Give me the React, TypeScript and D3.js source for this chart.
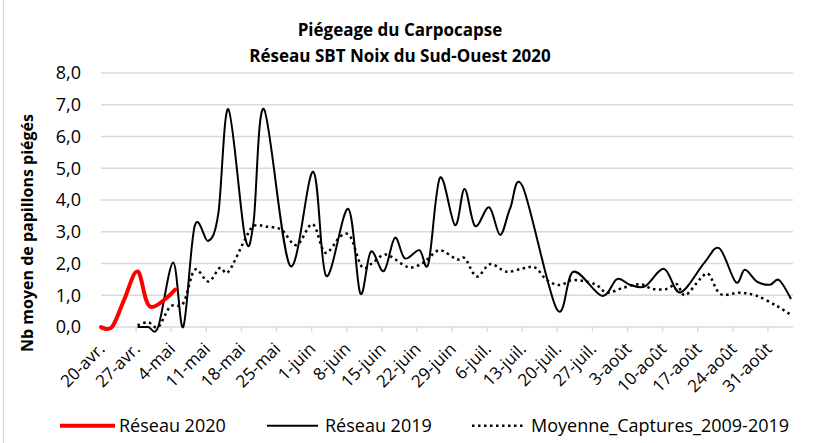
import React from 'react';
import * as d3 from 'd3';

// tick labels, one per week from 20 April
const tickLabels = [
  '20-avr.', '27-avr.', '4-mai', '11-mai', '18-mai', '25-mai', '1-juin', '8-juin', '15-juin', '22-juin',
  '29-juin', '6-juil.', '13-juil.', '20-juil.', '27-juil.', '3-août', '10-août', '17-août', '24-août', '31-août'
];
const yTicks = [0, 1, 2, 3, 4, 5, 6, 7, 8];

// days counted from 20 April
const days2020 = [0, 2.2, 4.6, 7.3, 9.8, 14.8];
const values2020 = [0, 0, 0.85, 1.75, 0.64, 1.18];

const days2019 = [
  7.3, 9.4, 11.4, 14.4, 16.4, 18.7, 21.4, 23.4, 25.4, 28.7, 30.4, 32.5, 37.7, 42.3, 44.9, 49.3, 51.7, 53.8,
  56.4, 58.6, 60.6, 63.5, 65.3, 67.6, 70.6, 72.5, 74.6, 77.4, 79.6, 81.6, 84.1, 90.9, 94.2, 99.9,
  102.9, 105.5, 108.5, 112.3, 115.5, 120.3, 123.3, 126.6, 128.4, 130.8, 133.4, 135.2, 137.6
];
const values2019 = [
  0, 0, 0, 2.03, 0, 3.19, 2.71, 3.58, 6.86, 2.85, 3.27, 6.86, 1.93, 4.89, 1.61, 3.72, 1.06, 2.37,
  1.76, 2.81, 2.16, 2.42, 2.0, 4.7, 3.21, 4.35, 3.18, 3.77, 2.9, 3.74, 4.42, 0.56, 1.74, 0.98,
  1.51, 1.33, 1.28, 1.83, 1.09, 2.02, 2.48, 1.41, 1.8, 1.43, 1.33, 1.48, 0.88
];

const daysMoy = [
  7.3, 9.4, 11.4, 13.8, 16.4, 18.7, 21.4, 23.7, 25.4, 28.7, 30.4, 33, 36, 39, 42.2, 44.7, 47.7, 49.7, 52,
  54, 56, 57.6, 61.3, 64, 65.3, 67.6, 71, 72.6, 74.9, 77.6, 80.9, 84.2, 86.6, 88.9, 91.5, 94.2, 98.5,
  100.9, 104.2, 107.5, 110, 112.8, 114.8, 116.5, 119.6, 121.2, 123.5, 127.4, 130.8, 134.8, 137.6
];
const valuesMoy = [
  0.05, 0.15, 0, 0.64, 0.75, 1.8, 1.43, 1.86, 1.74, 2.75, 3.18, 3.16, 3.06, 2.58, 3.24, 2.34, 2.85, 2.85, 1.9,
  2.0, 2.25, 2.24, 1.88, 2.0, 2.16, 2.42, 2.13, 2.16, 1.59, 1.98, 1.74, 1.85, 1.87, 1.48, 1.32, 1.48, 1.35,
  1.08, 1.24, 1.35, 1.2, 1.2, 1.35, 1.0, 1.53, 1.66, 1.04, 1.08, 0.98, 0.66, 0.38
];

const legendItems = ['Réseau 2020', 'Réseau 2019', 'Moyenne_Captures_2009-2019'];

const font = "'Open Sans', sans-serif";
const grid = '#d9d9d9';

const App: React.FC = () => {
  const width = 823;
  const height = 443;
  const margin = { top: 73, right: 30, bottom: 116, left: 101 };

  const xScale = d3.scaleLinear().domain([0, 138]).range([margin.left, width - margin.right]);
  const yScale = d3.scaleLinear().domain([0, 8]).range([height - margin.bottom, margin.top]);

  const line = d3
    .line<[number, number]>()
    .x(d => xScale(d[0]))
    .y(d => yScale(d[1]))
    .curve(d3.curveCardinal.tension(0));

  const zip = (xs: number[], ys: number[]) => xs.map((x, i) => [x, ys[i]] as [number, number]);

  const y0 = yScale(0);

  return (
    <svg width={width} height={height} style={{ position: 'absolute', left: 0, top: 0, background: '#fff' }}>
      <line x1={3.5} x2={3.5} y1={0} y2={height} stroke={grid} strokeWidth={1.3} />

      <text x={400} y={36} textAnchor="middle" fontFamily={font} fontWeight="bold" fontSize={17}>
        Piégeage du Carpocapse
      </text>
      <text x={400} y={62} textAnchor="middle" fontFamily={font} fontWeight="bold" fontSize={17}>
        Réseau SBT Noix du Sud-Ouest 2020
      </text>

      {/* gridlines + y labels */}
      {yTicks.map(t => (
        <g key={t}>
          <line x1={margin.left} x2={width - margin.right} y1={yScale(t)} y2={yScale(t)} stroke={grid} strokeWidth={1.3} />
          <text x={81} y={yScale(t)} dy="0.35em" textAnchor="end" fontFamily={font} fontSize={18} fill="#000">
            {d3.format('.1f')(t).replace('.', ',')}
          </text>
        </g>
      ))}

      <text
        transform={`translate(33, 233) rotate(-90)`}
        textAnchor="middle"
        fontFamily={font}
        fontWeight="bold"
        fontSize={16}
      >
        Nb moyen de papillons piégés
      </text>

      {/* x ticks + labels */}
      {tickLabels.map((label, i) => {
        const x = xScale(i * 7);
        return (
          <g key={label}>
            <line x1={x} x2={x} y1={y0} y2={y0 + 5} stroke={grid} strokeWidth={1.3} />
            <text
              transform={`translate(${x + 5}, ${y0 + 23}) rotate(-45)`}
              textAnchor="end"
              fontFamily={font}
              fontSize={17}
            >
              {label}
            </text>
          </g>
        );
      })}

      {/* series */}
      <path d={line(zip(daysMoy, valuesMoy)) || ''} fill="none" stroke="#000" strokeWidth={2.5} strokeDasharray="2.5 3.5" />
      <path d={line(zip(days2019, values2019)) || ''} fill="none" stroke="#000" strokeWidth={2} />
      <path d={line(zip(days2020, values2020)) || ''} fill="none" stroke="#ff0000" strokeWidth={4} strokeLinecap="round" />

      {/* legend */}
      <g fontFamily={font} fontSize={18}>
        <line x1={60} x2={115} y1={425.7} y2={425.7} stroke="#ff0000" strokeWidth={4} />
        <text x={119} y={432}>{legendItems[0]}</text>
        <line x1={267} x2={318} y1={425.7} y2={425.7} stroke="#000" strokeWidth={2} />
        <text x={325} y={432}>{legendItems[1]}</text>
        <line x1={472} x2={524} y1={425.7} y2={425.7} stroke="#000" strokeWidth={2.5} strokeDasharray="2.5 3.5" />
        <text x={531} y={432}>{legendItems[2]}</text>
      </g>
    </svg>
  );
};

export default App;
